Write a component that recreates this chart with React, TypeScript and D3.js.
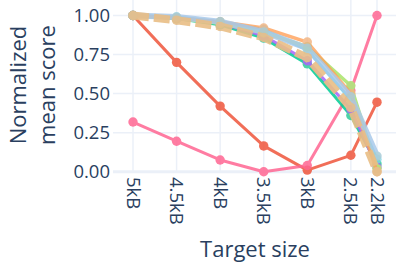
import React from "react";
import * as d3 from "d3";

const sizes = [5, 4.5, 4, 3.5, 3, 2.5, 2.2];
const sizeLabels = ["5kB", "4.5kB", "4kB", "3.5kB", "3kB", "2.5kB", "2.2kB"];
const yTicks = [0, 0.25, 0.5, 0.75, 1];

const redSeries = [1.0, 0.7, 0.42, 0.165, 0.01, 0.105, 0.445];
const pinkSeries = [0.318, 0.195, 0.075, 0.0, 0.04, 0.52, 1.0];
const greenSeries = [1.0, 0.98, 0.94, 0.855, 0.69, 0.36, 0.05];
const purpleSeries = [1.0, 0.98, 0.95, 0.87, 0.71, 0.4, 0.03];
const cyanSeries = [1.0, 0.99, 0.96, 0.91, 0.78, 0.46, 0.08];
const lightGreenSeries = [1.0, 0.98, 0.95, 0.89, 0.8, 0.55, 0.02];
const orangeSeries = [1.0, 0.985, 0.96, 0.92, 0.83, 0.5, 0.0];
const lightBlueSeries = [1.0, 0.99, 0.96, 0.895, 0.79, 0.48, 0.1];
const tanSeries = [1.0, 0.97, 0.93, 0.86, 0.73, 0.41, 0.0];

const series = [
  { name: "red", values: redSeries, color: "#EF553B", width: 3, dash: "", opacity: 0.85, marker: "#EF553B" },
  { name: "pink", values: pinkSeries, color: "#FF6692", width: 3, dash: "", opacity: 0.85, marker: "#FF6692" },
  { name: "green", values: greenSeries, color: "#00CC96", width: 3, dash: "", opacity: 0.85, marker: "#2ECC9A" },
  { name: "purple", values: purpleSeries, color: "#AB63FA", width: 3, dash: "", opacity: 0.85, marker: "#AB63FA" },
  { name: "cyan", values: cyanSeries, color: "#19D3F3", width: 3, dash: "", opacity: 0.7, marker: "#7FD8E8" },
  { name: "lightgreen", values: lightGreenSeries, color: "#B6E880", width: 3.5, dash: "", opacity: 1, marker: "#B6DC80" },
  { name: "orange", values: orangeSeries, color: "#FFA15A", width: 3.5, dash: "", opacity: 0.8, marker: "#F2B27E" },
  { name: "lightblue", values: lightBlueSeries, color: "#A9C9EA", width: 6, dash: "", opacity: 0.85, marker: "#A8CCD8" },
  { name: "tan", values: tanSeries, color: "#E9BE86", width: 8, dash: "16,5", opacity: 0.9, marker: "#E6BE8A" },
];

const W = 399;
const H = 266;
const plotLeft = 113;
const plotRight = 396;
const font = "'Open Sans', 'Noto Sans', sans-serif";
const textColor = "#2a3f5f";

export default function App() {
  const x = d3.scaleLinear().domain([5, 2.2]).range([133, 377]);
  const y = d3.scaleLinear().domain([0, 1]).range([171.7, 15.5]);
  const line = d3
    .line<number>()
    .x((_, i) => x(sizes[i]))
    .y((d) => y(d));

  return (
    <svg
      width={W}
      height={H}
      style={{ position: "absolute", left: 0, top: 0, background: "#fff" }}
      fontFamily={font}
    >
      {sizes.map((s, i) => (
        <line key={"vg" + i} x1={x(s)} x2={x(s)} y1={0} y2={172} stroke="#EBF0F8" strokeWidth={1.5} />
      ))}
      {yTicks.map((t, i) => (
        <line
          key={"hg" + i}
          x1={plotLeft}
          x2={plotRight}
          y1={y(t)}
          y2={y(t)}
          stroke="#EBF0F8"
          strokeWidth={t === 0 ? 3 : 1.5}
        />
      ))}
      {series.map((s) => (
        <g key={s.name} opacity={s.opacity}>
          <path
            d={line(s.values) || ""}
            fill="none"
            stroke={s.color}
            strokeWidth={s.width}
            strokeDasharray={s.dash || undefined}
            strokeLinejoin="round"
          />
          {s.values.map((v, i) => (
            <circle key={i} cx={x(sizes[i])} cy={y(v)} r={4.7} fill={s.marker} />
          ))}
        </g>
      ))}
      {yTicks.map((t, i) => (
        <text
          key={"yt" + i}
          x={110}
          y={y(t)}
          dy="0.35em"
          textAnchor="end"
          fontSize={18.5}
          fill={textColor}
        >
          {d3.format(".2f")(t)}
        </text>
      ))}
      {sizes.map((s, i) => (
        <text
          key={"xt" + i}
          transform={`translate(${x(s)},177) rotate(90)`}
          textAnchor="start"
          dy="0.35em"
          fontSize={18.5}
          fill={textColor}
        >
          {sizeLabels[i]}
        </text>
      ))}
      <text x={255} y={257} textAnchor="middle" fontSize={22} fill={textColor}>
        Target size
      </text>
      <text transform="translate(26,85) rotate(-90)" textAnchor="middle" fontSize={22} fill={textColor}>
        Normalized
      </text>
      <text transform="translate(55,85) rotate(-90)" textAnchor="middle" fontSize={22} fill={textColor}>
        mean score
      </text>
    </svg>
  );
}
